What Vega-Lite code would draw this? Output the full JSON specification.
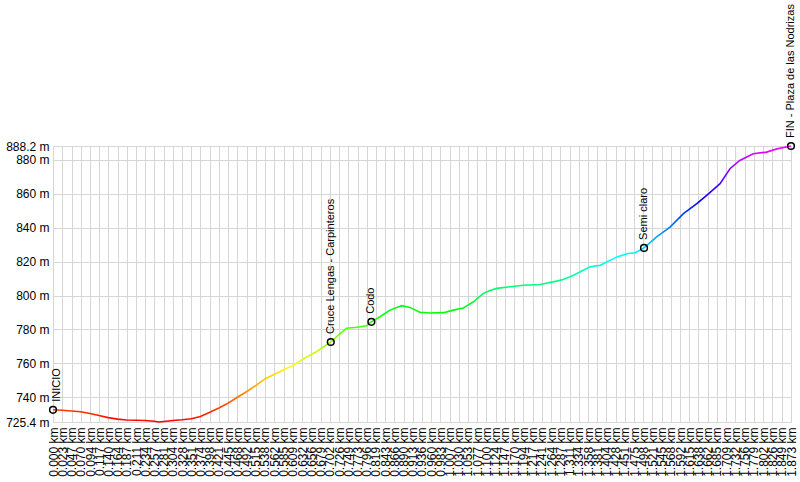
{
  "$schema": "https://vega.github.io/schema/vega-lite/v6.json",
  "width": 738,
  "height": 276,
  "autosize": "none",
  "padding": {"left": 53, "top": 146, "right": 9, "bottom": 60},
  "background": "white",
  "datasets": {
    "profile": [
      {"d": 0.000, "elev": 732.6},
      {"d": 0.023, "elev": 732.3},
      {"d": 0.047, "elev": 731.9},
      {"d": 0.070, "elev": 731.4},
      {"d": 0.094, "elev": 730.4},
      {"d": 0.117, "elev": 729.2},
      {"d": 0.140, "elev": 728.0},
      {"d": 0.164, "elev": 727.1},
      {"d": 0.187, "elev": 726.6},
      {"d": 0.211, "elev": 726.4},
      {"d": 0.234, "elev": 726.3},
      {"d": 0.257, "elev": 725.8},
      {"d": 0.268, "elev": 725.4},
      {"d": 0.281, "elev": 725.7},
      {"d": 0.304, "elev": 726.3},
      {"d": 0.328, "elev": 726.7},
      {"d": 0.351, "elev": 727.3},
      {"d": 0.374, "elev": 728.7},
      {"d": 0.398, "elev": 731.2},
      {"d": 0.421, "elev": 733.7},
      {"d": 0.445, "elev": 736.6},
      {"d": 0.468, "elev": 740.0},
      {"d": 0.492, "elev": 743.4},
      {"d": 0.515, "elev": 747.0},
      {"d": 0.538, "elev": 750.8},
      {"d": 0.562, "elev": 753.6},
      {"d": 0.585, "elev": 756.1},
      {"d": 0.609, "elev": 758.8},
      {"d": 0.635, "elev": 762.6},
      {"d": 0.669, "elev": 766.9},
      {"d": 0.705, "elev": 772.6},
      {"d": 0.726, "elev": 777.0},
      {"d": 0.745, "elev": 780.7},
      {"d": 0.771, "elev": 781.3},
      {"d": 0.796, "elev": 782.2},
      {"d": 0.808, "elev": 784.5},
      {"d": 0.830, "elev": 787.5},
      {"d": 0.855, "elev": 791.4},
      {"d": 0.885, "elev": 794.0},
      {"d": 0.906, "elev": 793.0},
      {"d": 0.931, "elev": 790.1},
      {"d": 0.957, "elev": 789.7},
      {"d": 0.991, "elev": 789.9},
      {"d": 1.016, "elev": 791.4},
      {"d": 1.041, "elev": 792.6},
      {"d": 1.067, "elev": 796.3},
      {"d": 1.092, "elev": 801.3},
      {"d": 1.109, "elev": 803.0},
      {"d": 1.126, "elev": 804.2},
      {"d": 1.160, "elev": 805.2},
      {"d": 1.194, "elev": 806.1},
      {"d": 1.236, "elev": 806.5},
      {"d": 1.278, "elev": 808.5},
      {"d": 1.295, "elev": 809.5},
      {"d": 1.321, "elev": 812.0},
      {"d": 1.363, "elev": 816.9},
      {"d": 1.389, "elev": 817.9},
      {"d": 1.431, "elev": 822.8},
      {"d": 1.460, "elev": 824.8},
      {"d": 1.478, "elev": 825.2},
      {"d": 1.500, "elev": 828.1},
      {"d": 1.532, "elev": 834.6},
      {"d": 1.566, "elev": 840.4},
      {"d": 1.600, "elev": 848.3},
      {"d": 1.634, "elev": 854.2},
      {"d": 1.659, "elev": 859.1},
      {"d": 1.693, "elev": 866.0},
      {"d": 1.718, "elev": 874.8},
      {"d": 1.743, "elev": 879.7},
      {"d": 1.777, "elev": 883.6},
      {"d": 1.811, "elev": 884.6},
      {"d": 1.837, "elev": 886.5},
      {"d": 1.873, "elev": 888.2}
    ],
    "waypoints": [
      {"d": 0.000, "elev": 732.6, "name": "INICIO"},
      {"d": 0.705, "elev": 772.6, "name": "Cruce Lengas - Carpinteros"},
      {"d": 0.808, "elev": 784.5, "name": "Codo"},
      {"d": 1.500, "elev": 828.1, "name": "Semi claro"},
      {"d": 1.873, "elev": 888.2, "name": "FIN - Plaza de las Nodrizas"}
    ]
  },
  "encoding": {
    "x": {
      "field": "d",
      "type": "quantitative",
      "scale": {"domain": [0, 1.873], "nice": false, "zero": false},
      "axis": {
        "title": null,
        "values": [0, 0.023, 0.047, 0.070, 0.094, 0.117, 0.140, 0.164, 0.187, 0.211, 0.234, 0.257, 0.281, 0.304, 0.328, 0.351, 0.374, 0.398, 0.421, 0.445, 0.468, 0.492, 0.515, 0.538, 0.562, 0.585, 0.609, 0.632, 0.656, 0.679, 0.702, 0.726, 0.749, 0.773, 0.796, 0.819, 0.843, 0.866, 0.890, 0.913, 0.936, 0.960, 0.983, 1.007, 1.030, 1.053, 1.077, 1.100, 1.124, 1.147, 1.170, 1.194, 1.217, 1.241, 1.264, 1.287, 1.311, 1.334, 1.358, 1.381, 1.404, 1.428, 1.451, 1.475, 1.498, 1.521, 1.545, 1.568, 1.592, 1.615, 1.638, 1.662, 1.685, 1.709, 1.732, 1.756, 1.779, 1.802, 1.826, 1.849, 1.873],
        "labelExpr": "format(datum.value, '.3f') + ' km'",
        "labelAngle": 270,
        "labelAlign": "right",
        "labelBaseline": "middle",
        "labelPadding": 5,
        "labelOverlap": false,
        "labelFlush": false,
        "labelBound": false
      }
    },
    "y": {
      "field": "elev",
      "type": "quantitative",
      "scale": {"domain": [725.4, 888.2], "nice": false, "zero": false},
      "axis": {
        "title": null,
        "values": [725.4, 740, 760, 780, 800, 820, 840, 860, 880, 888.2],
        "labelExpr": "format(datum.value, '.1~f') + ' m'",
        "labelPadding": 4,
        "labelOverlap": false,
        "labelFlush": false,
        "labelBound": false
      }
    }
  },
  "layer": [
    {
      "data": {"name": "profile"},
      "mark": {
        "type": "line",
        "strokeWidth": 1.6,
        "stroke": {
          "gradient": "linear",
          "x1": 0, "y1": 1, "x2": 0, "y2": 0,
          "stops": [
            {"offset": 0, "color": "#ff0000"},
            {"offset": 0.2, "color": "#ffff00"},
            {"offset": 0.4, "color": "#00ff00"},
            {"offset": 0.6, "color": "#00ffff"},
            {"offset": 0.8, "color": "#0000ff"},
            {"offset": 1, "color": "#ff00ff"}
          ]
        }
      }
    },
    {
      "data": {"name": "waypoints"},
      "mark": {"type": "point", "shape": "circle", "filled": false, "color": "#000000", "strokeWidth": 1.5, "size": 45, "opacity": 1}
    },
    {
      "data": {"name": "waypoints"},
      "transform": [{"filter": "datum.name !== 'INICIO'"}],
      "mark": {"type": "text", "angle": 270, "align": "left", "baseline": "middle", "dx": 8, "font": "Liberation Sans", "fontSize": 11, "color": "#000000"},
      "encoding": {"text": {"field": "name"}}
    },
    {
      "data": {"name": "waypoints"},
      "transform": [{"filter": "datum.name === 'INICIO'"}],
      "mark": {"type": "text", "angle": 270, "align": "left", "baseline": "middle", "dx": 8, "dy": 4, "font": "Liberation Sans", "fontSize": 11, "color": "#000000"},
      "encoding": {"text": {"field": "name"}}
    }
  ],
  "config": {
    "view": {"stroke": null},
    "axis": {
      "domain": false,
      "ticks": false,
      "grid": true,
      "gridColor": "#d6d6d6",
      "gridWidth": 1,
      "gridOpacity": 1,
      "labelFont": "Liberation Sans",
      "labelFontSize": 12,
      "labelColor": "#000000"
    }
  }
}
